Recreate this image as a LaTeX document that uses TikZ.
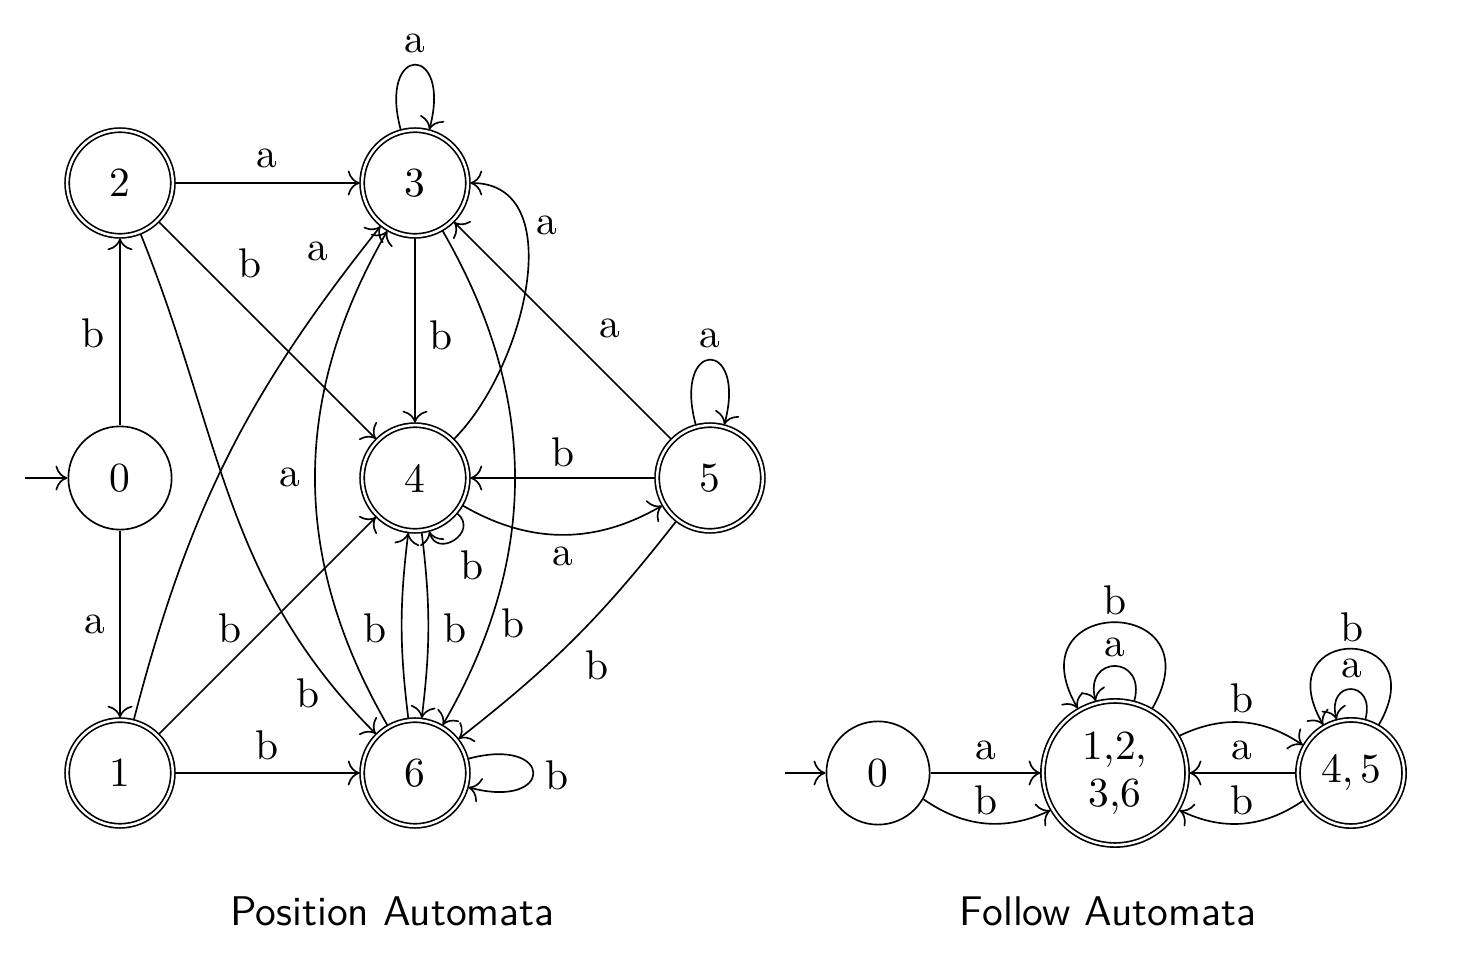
\documentclass[tikz,border=0pt]{standalone}
\usetikzlibrary{arrows.meta}
\begin{document}
\begin{tikzpicture}[
  line width=0.48pt,
  font=\normalsize,
  >={To[scale=1.3]},
  st/.style={circle, draw, scale=1.2, minimum size=0.875cm, inner sep=0pt, line width=0.48pt},
  acc/.style={st, double, double distance=0.72pt, minimum size=0.896cm, outer sep=0.6pt},
  lbl/.style={inner sep=0pt, scale=1.2},
  tr/.style={->},
  ttl/.style={font=\sffamily, scale=1.2, anchor=base},
]
\useasboundingbox (-1.2204,-4.902) rectangle (13.597,4.861);

% ---------- Position automaton ----------
\node[st]  (q0) at (0,0)  {0};
\node[acc] (q2) at (0,3)  {2};
\node[acc] (q1) at (0,-3) {1};
\node[acc] (q3) at (3,3)  {3};
\node[acc] (q4) at (3,0)  {4};
\node[acc] (q6) at (3,-3) {6};
\node[acc] (q5) at (6,0)  {5};
\coordinate (i0) at (-0.966,0);

\draw[tr] (i0) -- (q0);
\draw[tr] (q0) -- (q2) node[lbl] at (-0.275,1.475) {b};
\draw[tr] (q0) -- (q1) node[lbl] at (-0.254,-1.485) {a};
\draw[tr] (q2) -- (q3) node[lbl] at (1.495,3.254) {a};
\draw[tr] (q2) -- (q4) node[lbl] at (1.322,2.187) {b};
\draw[tr] (q2) to[out=-68,in=135] (q6) node[lbl] at (1.912,-2.187) {b};
\draw[tr] (q1) to[bend left=12] (q3) node[lbl] at (2.014,2.309) {a};
\draw[tr] (q1) -- (q4) node[lbl] at (1.119,-1.525) {b};
\draw[tr] (q1) -- (q6) node[lbl] at (1.495,-2.715) {b};
\draw[tr] (q3) to[out=105,in=75,looseness=8] (q3) node[lbl] at (3.0,4.424) {a};
\draw[tr] (q3) -- (q4) node[lbl] at (3.264,1.454) {b};
\draw[tr] (q3) to[bend left=30] (q6) node[lbl] at (3.997,-1.475) {b};
\draw[tr] (q4) to[out=45,in=0] (q3) node[lbl] at (4.343,2.573) {a};
\draw[tr] (q4) to[out=-40,in=-75,looseness=2.2] (q4) node[lbl] at (3.580,-0.885) {b};
\draw[tr] (q4) to[bend right=30] (q5) node[lbl] at (4.505,-0.793) {a};
\draw[tr] (q4) to[bend left=7] (q6) node[lbl] at (3.407,-1.525) {b};
\draw[tr] (q6) to[bend left=7] (q4) node[lbl] at (2.593,-1.525) {b};
\draw[tr] (q6) to[bend left=30] (q3) node[lbl] at (1.729,0.010) {a};
\draw[tr] (q6) to[out=15,in=-15,looseness=8] (q6) node[lbl] at (4.444,-3.020) {b};
\draw[tr] (q5) -- (q4) node[lbl] at (4.505,0.264) {b};
\draw[tr] (q5) -- (q3) node[lbl] at (4.983,1.525) {a};
\draw[tr] (q5) to[out=105,in=75,looseness=8] (q5) node[lbl] at (6.0,1.424) {a};
\draw[tr] (q5) to[bend left=7] (q6) node[lbl] at (4.851,-1.902) {b};

% ---------- Follow automaton ----------
\node[st] (f0) at (7.709,-3) {0};
\node[acc, minimum size=1.221cm, align=center, font=\fontsize{10}{11.2}\selectfont] (f1) at (10.119,-3) {1,2,\\3,6};
\node[acc, minimum size=0.9cm] (f2) at (12.519,-3) {$4,5$};
\coordinate (i1) at (6.763,-3);

\draw[tr] (i1) -- (f0);
\draw[tr] (f0) -- (f1) node[lbl] at (8.807,-2.766) {a};
\draw[tr] (f0) to[bend right=30] (f1) node[lbl] at (8.807,-3.275) {b};
\draw[tr] (f1) to[out=75,in=105,looseness=3.2] (f1) node[lbl] at (10.119,-1.719) {a};
\draw[tr] (f1) to[out=60,in=120,looseness=4.56] (f1) node[lbl] at (10.119,-1.241) {b};
\draw[tr] (f1) to[bend left=30] (f2) node[lbl] at (11.41,-2.237) {b};
\draw[tr] (f2) -- (f1) node[lbl] at (11.41,-2.766) {a};
\draw[tr] (f2) to[bend left=30] (f1) node[lbl] at (11.41,-3.275) {b};
\draw[tr] (f2) to[out=75,in=105,looseness=3.7] (f2) node[lbl] at (12.529,-1.932) {a};
\draw[tr] (f2) to[out=60,in=120,looseness=5.4] (f2) node[lbl] at (12.529,-1.515) {b};

% ---------- titles ----------
\node[ttl] (t1) at (2.771,-4.546) {Position Automata};
\node[ttl] (t2) at (10.048,-4.546) {Follow Automata};
\end{tikzpicture}
\end{document}
